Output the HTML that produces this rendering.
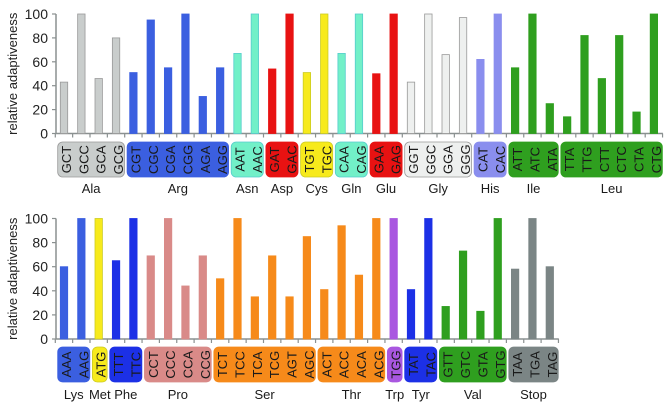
<!DOCTYPE html>
<html><head><meta charset="utf-8"><style>
body{margin:0;background:#fff;width:671px;height:408px;overflow:hidden}
svg{display:block;font-family:"Liberation Sans",Arial,sans-serif}
</style></head><body>
<svg id="chart" width="671" height="408"></svg>
<script>
const topGroups=["Ala","Arg","Asn","Asp","Cys","Gln","Glu","Gly","His","Ile","Leu"];
const topCodons=[["GCT","GCC","GCA","GCG"],["CGT","CGC","CGA","CGG","AGA","AGG"],["AAT","AAC"],["GAT","GAC"],["TGT","TGC"],["CAA","CAG"],["GAA","GAG"],["GGT","GGC","GGA","GGG"],["CAT","CAC"],["ATT","ATC","ATA"],["TTA","TTG","CTT","CTC","CTA","CTG"]];
const topValues=[[43,100,46,80],[51,95,55,100,31,55],[67,100],[54,100],[51,100],[67,100],[50,100],[43,100,66,97],[62,100],[55,100,25],[14,82,46,82,18,100]];
const botGroups=["Lys","Met","Phe","Pro","Ser","Thr","Trp","Tyr","Val","Stop"];
const botCodons=[["AAA","AAG"],["ATG"],["TTT","TTC"],["CCT","CCC","CCA","CCG"],["TCT","TCC","TCA","TCG","AGT","AGC"],["ACT","ACC","ACA","ACG"],["TGG"],["TAT","TAC"],["GTT","GTC","GTA","GTG"],["TAA","TGA","TAG"]];
const botValues=[[60,100],[100],[65,100],[69,100,44,69],[50,100,35,69,35,85],[41,94,53,100],[100],[41,100],[27,73,23,100],[58,100,60]];
const yTicks=[0,20,40,60,80,100];
const colors={Ala:["#c9cdcc","#999"],Arg:["#3b5fe0","#3b5fe0"],Asn:["#72f0c8","#5cc"],Asp:["#e81212","#e81212"],Cys:["#f7ea1c","#cc2"],Gln:["#72f0c8","#5cc"],Glu:["#e81212","#e81212"],Gly:["#eef0ef","#999"],His:["#8a8eee","#8a8eee"],Ile:["#2f9f1f","#2f9f1f"],Leu:["#2f9f1f","#2f9f1f"],Lys:["#3b5fe0","#3b5fe0"],Met:["#f7ea1c","#cc2"],Phe:["#1c30e6","#1c30e6"],Pro:["#d98a88","#d98a88"],Ser:["#f68a1a","#f68a1a"],Thr:["#f68a1a","#f68a1a"],Trp:["#a957e0","#a957e0"],Tyr:["#1c30e6","#1c30e6"],Val:["#2f9f1f","#2f9f1f"],Stop:["#7b8585","#7b8585"]};
const NS="http://www.w3.org/2000/svg";
const svg=document.getElementById("chart");
function mk(tag,attrs,parent){const e=document.createElementNS(NS,tag);for(const k in attrs)e.setAttribute(k,attrs[k]);(parent||svg).appendChild(e);return e;}
function panel(groups,codons,values,y0,y100,boxTop,boxBot,nameY,pname){
  const g=mk("g",{});
  
  
  const x0=64,step=17.35;
  const xs=i=>x0+i*step;
  const ys=v=>y0+(y100-y0)*v/100;
  const n=codons.flat().length;
  mk("line",{x1:56,y1:y100,x2:56,y2:y0,stroke:"#8a9090","stroke-width":1.5},g);
  yTicks.forEach(t=>{
    mk("line",{x1:52,y1:ys(t),x2:56,y2:ys(t),stroke:"#8a9090","stroke-width":1.2},g);
    const tx=mk("text",{x:48,y:ys(t)+5,"text-anchor":"end","font-size":14,fill:"#222"},g);
    tx.textContent=t;
    
    
  });
  const yt=mk("text",{transform:`translate(17,${(y0+y100)/2}) rotate(-90)`,"text-anchor":"middle","font-size":13,fill:"#222"},g);
  yt.textContent="relative adaptiveness";
  
  
  const xEnd=xs(n-1)+9;
  mk("line",{x1:56,y1:y0,x2:xEnd,y2:y0,stroke:"#8a9090","stroke-width":1.5},g);
  for(let i=0;i<=n;i++){mk("line",{x1:xs(i)-8.7,y1:y0,x2:xs(i)-8.7,y2:y0+4,stroke:"#8a9090","stroke-width":1.2},g);}
  let idx=0;
  groups.forEach((gr,gi)=>{
    const [fill,stroke]=colors[gr];
    const first=idx;
    codons[gi].forEach((c,ci)=>{
      const v=values[gi][ci];
      const x=xs(idx);
      const b=mk("rect",{x:x-3.7,y:ys(v),width:7.4,height:y0-ys(v),fill:fill,stroke:stroke,"stroke-width":0.8},g);
      
      
      idx++;
    });
    const cnt=idx-first;
    const bx=xs(first)-6.3,bw=cnt*step-2.6;
    const box=mk("rect",{x:bx,y:boxTop,width:bw,height:boxBot-boxTop,rx:5,fill:fill,stroke:stroke,"stroke-width":0.8},g);
    
    
    codons[gi].forEach((c,ci)=>{
      const cx=xs(first+ci)+2.5,cy=(boxTop+boxBot)/2;
      const t=mk("text",{transform:`translate(${cx+4.5},${cy}) rotate(-90)`,"text-anchor":"middle","font-size":13,fill:"#1a1a1a"},g);
      t.textContent=c;
      
      
    });
    const nm=mk("text",{x:bx+bw/2,y:nameY,"text-anchor":"middle","font-size":13,fill:"#1a1a1a"},g);
    nm.textContent=gr;
    
    
  });
}
panel(topGroups,topCodons,topValues,133.5,14,142,177,193,"top-panel");
panel(botGroups,botCodons,botValues,339,218.5,347,382,399,"bottom-panel");
</script>
</body></html>
